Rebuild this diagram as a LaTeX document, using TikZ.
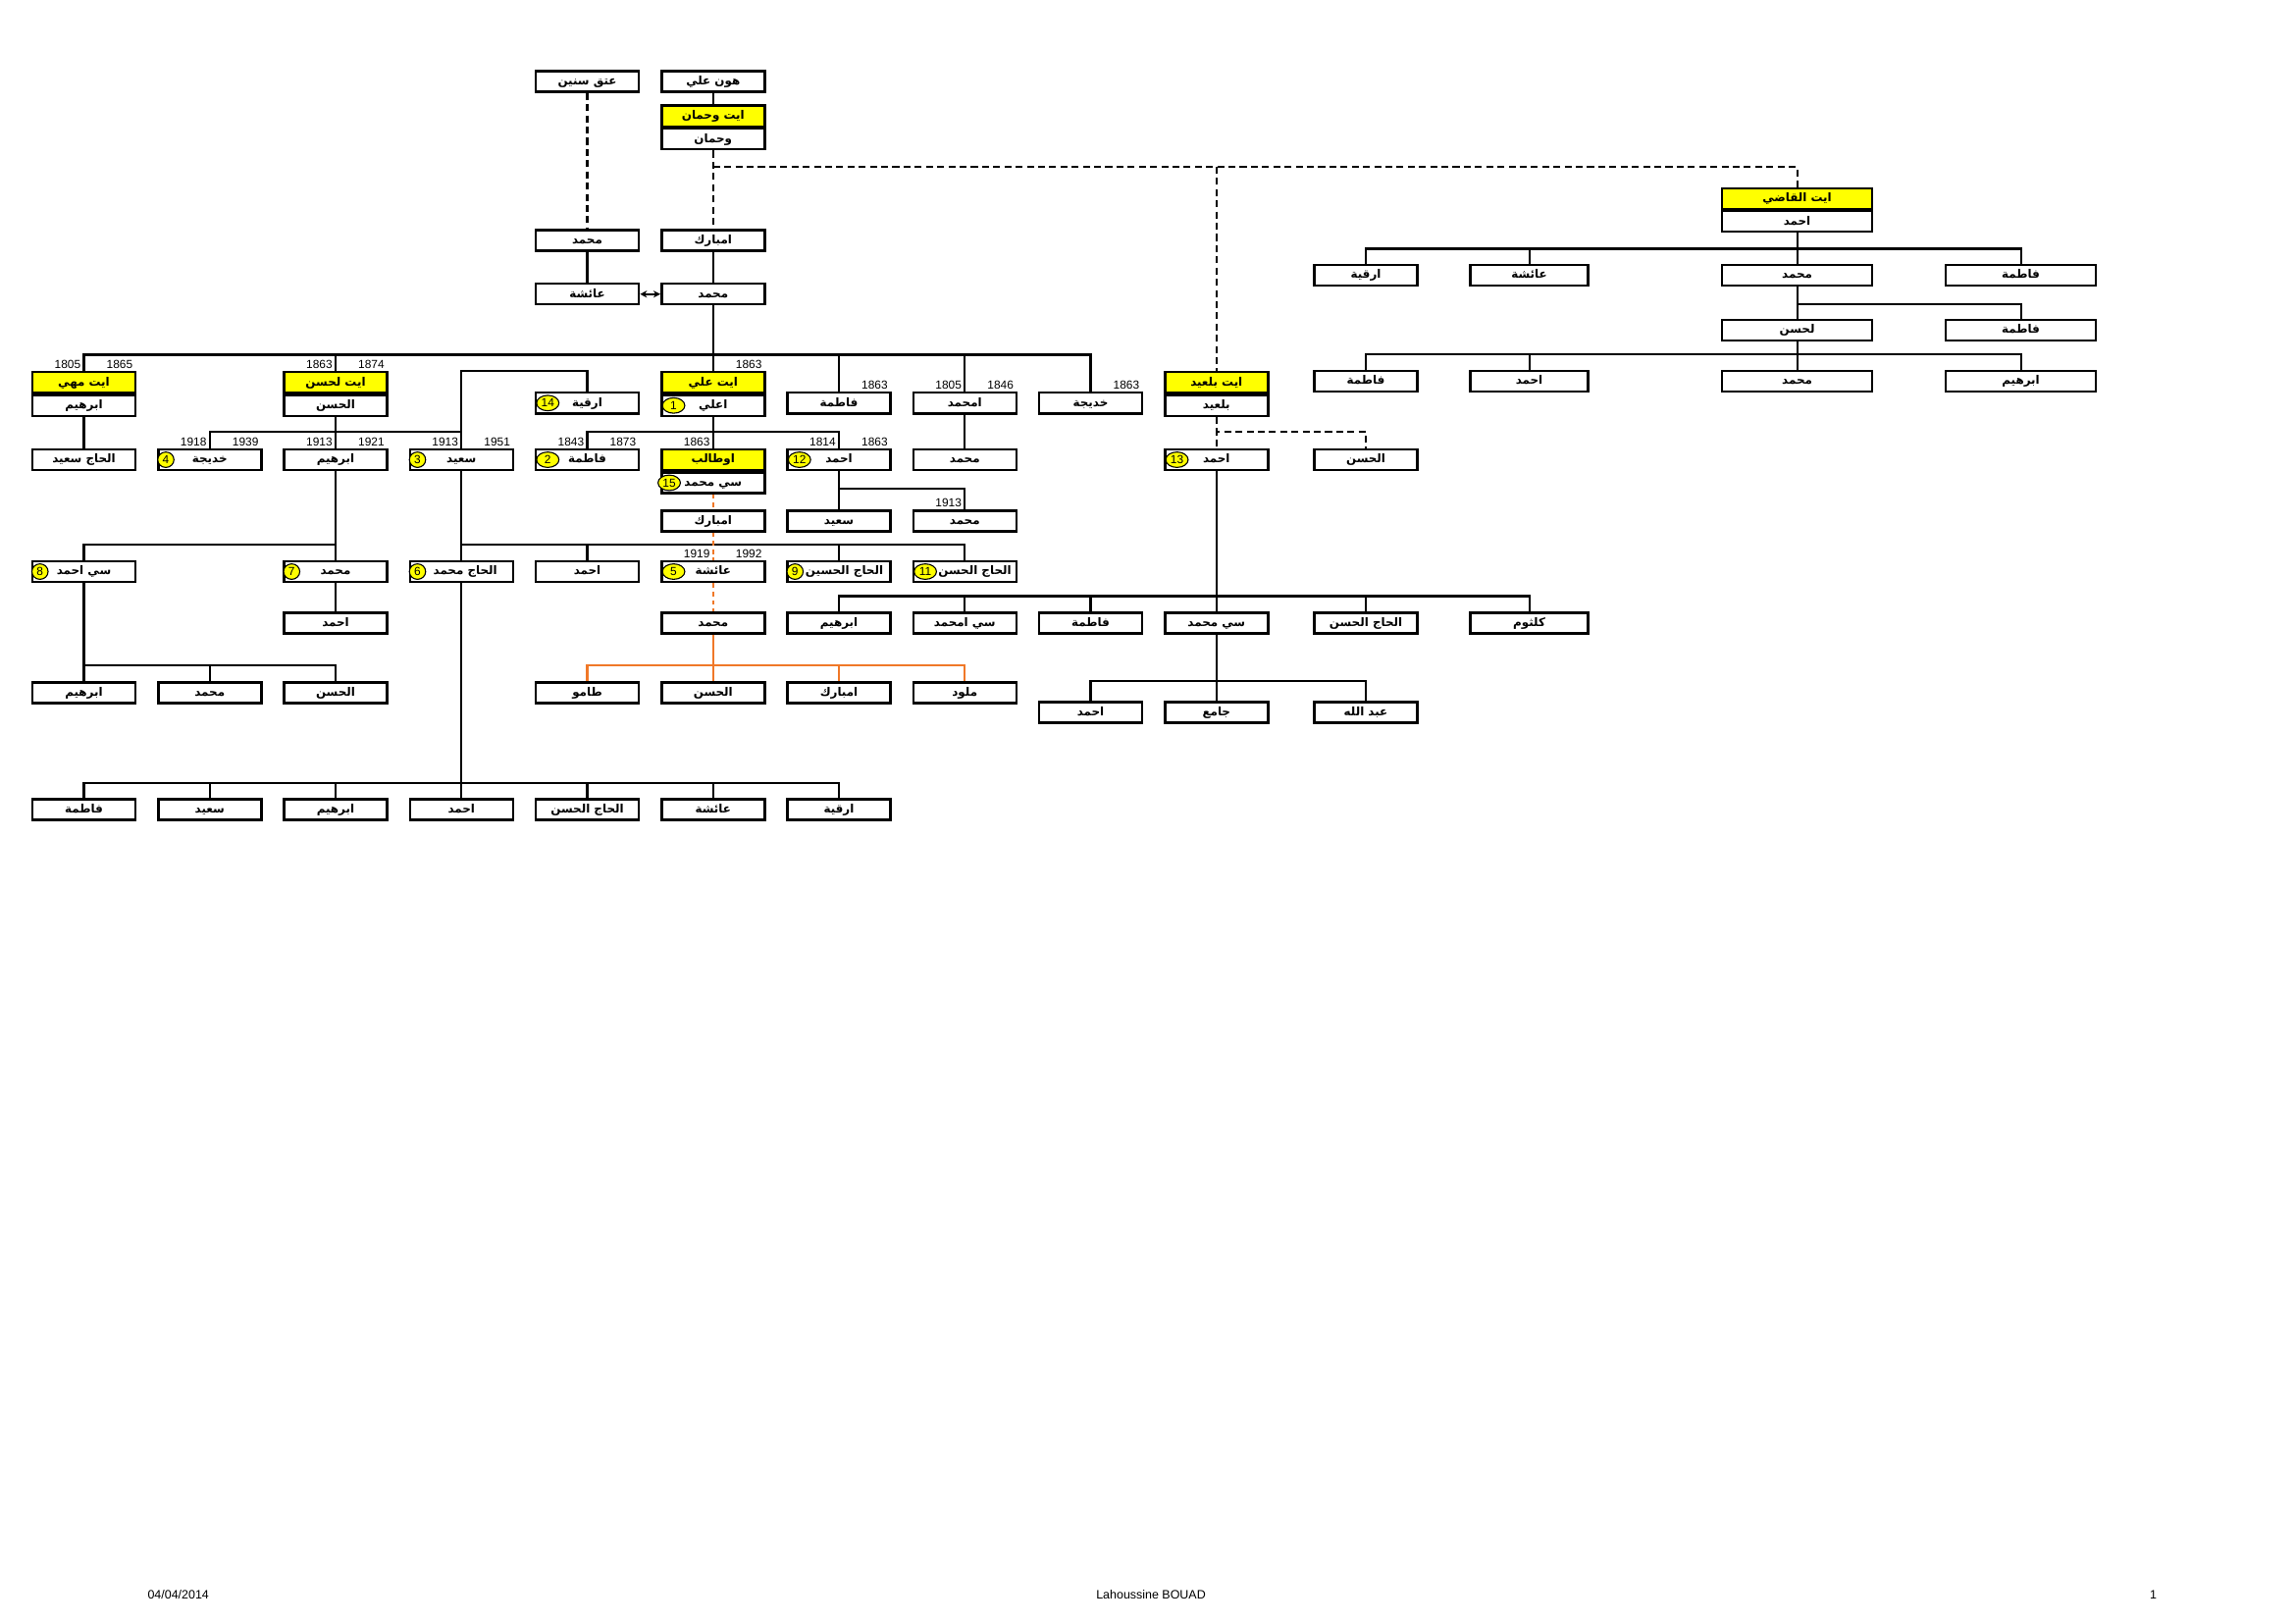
\documentclass[tikz,border=0pt]{standalone}
\usepackage{fontspec}
\setmainfont{Liberation Sans}
\newfontfamily\arabicfont[Script=Arabic]{DejaVu Sans}
\TeXXeTstate=1
\usetikzlibrary{shapes.geometric,arrows.meta}
\definecolor{tyellow}{RGB}{255,255,0}
\definecolor{torange}{RGB}{240,120,40}
\def\cxA{57}\def\cxB{142.5}\def\cxC{228}\def\cxD{313.5}\def\cxE{399}
\def\cxF{484.5}\def\cxG{570}\def\cxH{655.5}\def\cxI{741}\def\cxJ{826.5}
\def\cxK{928}\def\cxL{1039}\def\cxM{1221}\def\cxN{1373}
\newcommand{\bx}[5][70]{\node[pbox,minimum width=#1*0.19047mm,anchor=north] (#2) at (#3,#4) {#5};}
\newcommand{\dbx}[6][70]{\node[pbox,fill=tyellow,minimum width=#1*0.19047mm,anchor=north] (#2) at (#3,#4) {#5};
  \node[pbox,minimum width=#1*0.19047mm,anchor=north] (#2b) at (#2.south) {#6};}
\newcommand{\kids}[4][conn]{\foreach \k in {#4}{\draw[#1] (#2.south) -- (#2.south |- 0,#3) -| (\k.north);}}
\newcommand{\num}[3][9]{\node[numel] (n#3) at ([xshift=#1*0.19047mm]#2.west) {#3};}
\newcommand{\numn}[2]{\node[numel,minimum width=2.1mm] (n#2) at ([xshift=6*0.19047mm]#1.west) {#2};}
\newcommand{\yL}[3]{\node[yr,anchor=south east] (#1) at ([xshift=-0.35mm,yshift=0.2mm]#2.north) {#3};}
\newcommand{\yR}[3]{\node[yr,anchor=south east] (#1) at ([xshift=-0.45mm,yshift=0.2mm]#2.north east) {#3};}
\begin{document}
\begin{tikzpicture}[x=0.19047mm,y=-0.19047mm,
  pbox/.style={draw,line width=0.9pt,fill=white,inner sep=0pt,minimum height=2.667mm,
    text height=1.2mm,text depth=0.35mm,
    font=\arabicfont\bfseries\fontsize{4.3}{5}\selectfont},
  conn/.style={draw,line width=0.75pt},
  oconn/.style={draw=torange,line width=0.75pt},
  dsh/.style={draw,line width=0.75pt,dash pattern=on 0.9mm off 0.55mm},
  odsh/.style={draw=torange,line width=0.75pt,dash pattern=on 0.6mm off 0.5mm},
  numel/.style={ellipse,draw,line width=0.4pt,fill=tyellow,minimum width=2.9mm,minimum height=2.0mm,inner sep=0pt,font=\fontsize{4.3}{5}\selectfont},
  yr/.style={inner sep=0pt,font=\fontsize{4.3}{5}\selectfont},
  foot/.style={inner sep=0pt,font=\fontsize{4.5}{5}\selectfont}]
\fill[white] (0,0) rectangle (1559.3,1102.7);
\useasboundingbox (0,0) rectangle (1559.3,1102.7);
% top
\bx{atq}{\cxE}{47.5}{\beginR عتق سنين\endR}
\bx{hun}{\cxF}{47.5}{\beginR هون علي\endR}
\dbx{wah}{\cxF}{71}{\beginR ايت وحمان\endR}{\beginR وحمان\endR}
\bx{muhA}{\cxE}{155.5}{\beginR محمد\endR}
\bx{mbarkA}{\cxF}{155.5}{\beginR امبارك\endR}
\bx{aichaA}{\cxE}{192}{\beginR عائشة\endR}
\bx{muhB}{\cxF}{192}{\beginR محمد\endR}
% Qadi
\dbx[102]{qadi}{\cxM}{127}{\beginR ايت القاضي\endR}{\beginR احمد\endR}
\bx{qrqia}{\cxK}{179}{\beginR ارقية\endR}
\bx[80]{qaicha}{\cxL}{179}{\beginR عائشة\endR}
\bx[102]{qmuh}{\cxM}{179}{\beginR محمد\endR}
\bx[102]{qfat}{\cxN}{179}{\beginR فاطمة\endR}
\bx[102]{qlhsn}{\cxM}{216.5}{\beginR لحسن\endR}
\bx[102]{qfat2}{\cxN}{216.5}{\beginR فاطمة\endR}
\bx{qfat3}{\cxK}{251}{\beginR فاطمة\endR}
\bx[80]{qahm}{\cxL}{251}{\beginR احمد\endR}
\bx[102]{qmuh3}{\cxM}{251}{\beginR محمد\endR}
\bx[102]{qibr}{\cxN}{251}{\beginR ابرهيم\endR}
% row 3
\dbx{mhi}{\cxA}{252}{\beginR ايت مهي\endR}{\beginR ابرهيم\endR}
\dbx{lhsn}{\cxC}{252}{\beginR ايت لحسن\endR}{\beginR الحسن\endR}
\bx{rqia}{\cxE}{266}{\beginR ارقية\endR}
\dbx{ali}{\cxF}{252}{\beginR ايت علي\endR}{\beginR اعلي\endR}
\bx{fatA}{\cxG}{266}{\beginR فاطمة\endR}
\bx{amuh}{\cxH}{266}{\beginR امحمد\endR}
\bx{khadA}{\cxI}{266}{\beginR خديجة\endR}
\dbx{blaid}{\cxJ}{252}{\beginR ايت بلعيد\endR}{\beginR بلعيد\endR}
% row 4
\bx{hsaid}{\cxA}{304.5}{\beginR الحاج سعيد\endR}
\bx{khadB}{\cxB}{304.5}{\beginR خديجة\endR}
\bx{ibrA}{\cxC}{304.5}{\beginR ابرهيم\endR}
\bx{saidA}{\cxD}{304.5}{\beginR سعيد\endR}
\bx{fatB}{\cxE}{304.5}{\beginR فاطمة\endR}
\dbx{outa}{\cxF}{304.5}{\beginR اوطالب\endR}{\beginR سي محمد\endR}
\bx{ahmA}{\cxG}{304.5}{\beginR احمد\endR}
\bx{muhC}{\cxH}{304.5}{\beginR محمد\endR}
\bx{ahmB}{\cxJ}{304.5}{\beginR احمد\endR}
\bx{hsnB}{\cxK}{304.5}{\beginR الحسن\endR}
% row 5
\bx{mbarkB}{\cxF}{346}{\beginR امبارك\endR}
\bx{saidB}{\cxG}{346}{\beginR سعيد\endR}
\bx{muhD}{\cxH}{346}{\beginR محمد\endR}
% row 6
\bx{siahm}{\cxA}{380.5}{\beginR سي احمد\endR}
\bx{muhE}{\cxC}{380.5}{\beginR محمد\endR}
\bx{hmuh}{\cxD}{380.5}{\hspace{1mm}\beginR الحاج محمد\endR}
\bx{ahmC}{\cxE}{380.5}{\beginR احمد\endR}
\bx{aichaB}{\cxF}{380.5}{\beginR عائشة\endR}
\bx{hhsin}{\cxG}{380.5}{\hspace{1.4mm}\beginR الحاج الحسين\endR}
\bx{hhsnA}{\cxH}{380.5}{\hspace{2.6mm}\beginR الحاج الحسن\endR}
% row 7
\bx{ahmD}{\cxC}{415.5}{\beginR احمد\endR}
\bx{muhF}{\cxF}{415.5}{\beginR محمد\endR}
\bx{ibrB}{\cxG}{415.5}{\beginR ابرهيم\endR}
\bx{siamuh}{\cxH}{415.5}{\beginR سي امحمد\endR}
\bx{fatC}{\cxI}{415.5}{\beginR فاطمة\endR}
\bx{simuh}{\cxJ}{415.5}{\beginR سي محمد\endR}
\bx{hhsnB}{\cxK}{415.5}{\beginR الحاج الحسن\endR}
\bx[80]{kltm}{\cxL}{415.5}{\beginR كلثوم\endR}
% row 8
\bx{ibrC}{\cxA}{462.7}{\beginR ابرهيم\endR}
\bx{muhG}{\cxB}{462.7}{\beginR محمد\endR}
\bx{hsnC}{\cxC}{462.7}{\beginR الحسن\endR}
\bx{tamo}{\cxE}{462.7}{\beginR طامو\endR}
\bx{hsnD}{\cxF}{462.7}{\beginR الحسن\endR}
\bx{mbarkC}{\cxG}{462.7}{\beginR امبارك\endR}
\bx{mlod}{\cxH}{462.7}{\beginR ملود\endR}
\bx{ahmE}{\cxI}{476}{\beginR احمد\endR}
\bx{jama}{\cxJ}{476}{\beginR جامع\endR}
\bx{abdl}{\cxK}{476}{\beginR عبد الله\endR}
% row 9
\bx{fatD}{\cxA}{542}{\beginR فاطمة\endR}
\bx{saidC}{\cxB}{542}{\beginR سعيد\endR}
\bx{ibrD}{\cxC}{542}{\beginR ابرهيم\endR}
\bx{ahmF}{\cxD}{542}{\beginR احمد\endR}
\bx{hhsnC}{\cxE}{542}{\beginR الحاج الحسن\endR}
\bx{aichaC}{\cxF}{542}{\beginR عائشة\endR}
\bx{rqiaB}{\cxG}{542}{\beginR ارقية\endR}
% connectors
\draw[conn] (hun.south) -- (wah.north);
\draw[dsh] (atq.south) -- (muhA.north);
\draw[dsh] (wahb.south) -- (mbarkA.north);
\coordinate (jw) at (\cxF,113.3);
\draw[dsh] (jw) -| (qadi.north);
\draw[dsh] (jw -| blaid.north) -- (blaid.north);
\draw[conn] (muhA.south) -- (aichaA.north);
\draw[conn] (mbarkA.south) -- (muhB.north);
\draw[conn,{Stealth[length=0.9mm,width=0.9mm]}-{Stealth[length=0.9mm,width=0.9mm]}] (aichaA.east) -- (muhB.west);
\kids{muhB}{241}{mhi,lhsn,ali,fatA,amuh,khadA}
\draw[conn] (mhib.south) -- (hsaid.north);
\kids{lhsnb}{293.3}{khadB,ibrA,saidA}
\draw[conn] (saidA.north) -- (saidA.north |- 0,252) -| (rqia.north);
\kids{alib}{293.3}{fatB,outa,ahmA}
\draw[conn] (amuh.south) -- (muhC.north);
\kids{ahmA}{332}{saidB,muhD}
\kids{ibrA}{370}{siahm,muhE}
\kids{saidA}{370}{hmuh,ahmC,hhsin,hhsnA}
\draw[conn] (muhE.south) -- (ahmD.north);
\kids{siahm}{452}{ibrC,muhG,hsnC}
\kids{hmuh}{532}{fatD,saidC,ibrD,ahmF,hhsnC,aichaC,rqiaB}
\kids[oconn]{muhF}{452}{tamo,hsnD,mbarkC,mlod}
\draw[odsh] (outab.south) -- (mbarkB.north);
\draw[odsh] (mbarkB.south) -- (aichaB.north);
\draw[odsh] (aichaB.south) -- (muhF.north);
\kids[dsh]{blaidb}{293.3}{ahmB,hsnB}
\kids{ahmB}{405}{ibrB,siamuh,fatC,simuh,hhsnB,kltm}
\kids{simuh}{462.7}{ahmE,jama,abdl}
\kids{qadib}{169}{qrqia,qaicha,qmuh,qfat}
\kids{qmuh}{206.7}{qlhsn,qfat2}
\kids{qlhsn}{240.7}{qfat3,qahm,qmuh3,qibr}
% numbers
\num{alib}{1}
\num{fatB}{2}
\numn{saidA}{3}
\numn{khadB}{4}
\num{aichaB}{5}
\numn{hmuh}{6}
\numn{muhE}{7}
\numn{siahm}{8}
\numn{hhsin}{9}
\num{hhsnA}{11}
\num{ahmA}{12}
\num{ahmB}{13}
\num{rqia}{14}
\num[6]{outab}{15}
% years
\yL{y1}{mhi}{1805}\yR{y2}{mhi}{1865}
\yL{y3}{lhsn}{1863}\yR{y4}{lhsn}{1874}
\yR{y5}{ali}{1863}
\yR{y6}{fatA}{1863}
\yL{y7}{amuh}{1805}\yR{y8}{amuh}{1846}
\yR{y9}{khadA}{1863}
\yL{y10}{khadB}{1918}\yR{y11}{khadB}{1939}
\yL{y12}{ibrA}{1913}\yR{y13}{ibrA}{1921}
\yL{y14}{saidA}{1913}\yR{y15}{saidA}{1951}
\yL{y16}{fatB}{1843}\yR{y17}{fatB}{1873}
\yL{y18}{outa}{1863}
\yL{y19}{ahmA}{1814}\yR{y20}{ahmA}{1863}
\yL{y21}{muhD}{1913}
\yL{y22}{aichaB}{1919}\yR{y23}{aichaB}{1992}
% footer
\node[foot,anchor=base west] (fdate) at (100,1086) {04/04/2014};
\node[foot,anchor=base] (fauth) at (782,1086) {Lahoussine BOUAD};
\node[foot,anchor=base] (fpage) at (1463,1086) {1};
\end{tikzpicture}
\end{document}
